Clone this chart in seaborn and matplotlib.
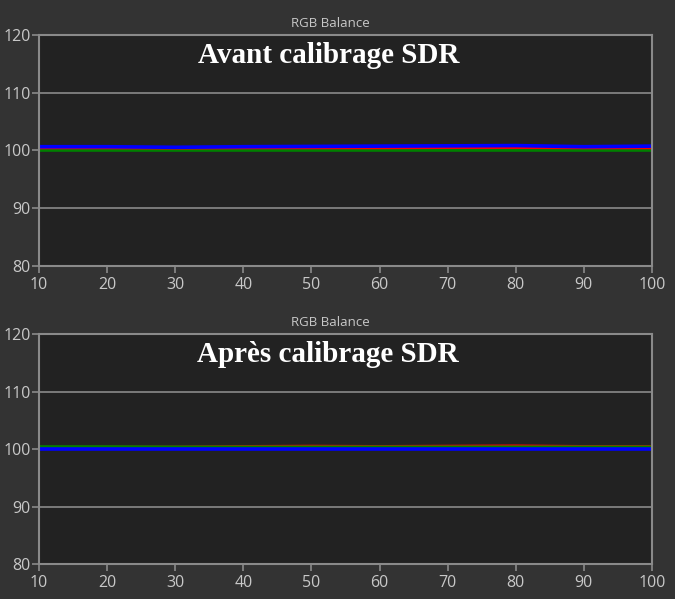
import numpy as np
import pandas as pd
import seaborn as sns
import matplotlib.pyplot as plt

# ------------------------------------------------------------
# DONNEES
# ------------------------------------------------------------
niveaux = [10, 20, 30, 40, 50, 60, 70, 80, 90, 100]

avant_rouge = [100.45, 100.45, 100.4, 100.45, 100.45, 100.45, 100.5, 100.5, 100.45, 100.45]
avant_vert = [100.1, 100.1, 100.1, 100.1, 100.1, 100.1, 100.1, 100.1, 100.1, 100.1]
avant_bleu = [100.65, 100.65, 100.55, 100.65, 100.7, 100.75, 100.8, 100.85, 100.65, 100.75]

apres_rouge = [100.3, 100.35, 100.35, 100.45, 100.5, 100.45, 100.5, 100.55, 100.45, 100.45]
apres_vert = [100.35, 100.35, 100.3, 100.3, 100.3, 100.3, 100.3, 100.3, 100.3, 100.3]
apres_bleu = [100.0, 100.0, 100.0, 100.0, 100.0, 100.0, 100.0, 100.0, 100.0, 100.0]

titre_haut = "Avant calibrage SDR"
titre_bas = "Après calibrage SDR"

# ------------------------------------------------------------
# STYLE
# ------------------------------------------------------------
sns.set_style("dark")
plt.rcParams["font.family"] = ["Open Sans", "DejaVu Sans"]

fond = "#333333"
fond_axe = "#222222"
gris = "#8a8a8a"
texte = "#c8c8c8"

fig = plt.figure(figsize=(6.75, 5.99), dpi=100, facecolor=fond)
ax1 = fig.add_axes([0.0578, 0.556, 0.908, 0.3856])
ax2 = fig.add_axes([0.0578, 0.0584, 0.908, 0.384])


def trace(ax, rouge, vert, bleu, titre, ordre):
    df = pd.DataFrame({"x": niveaux, "R": rouge, "G": vert, "B": bleu})
    styles = {"R": ("#ff0000", 2.0), "G": ("#008000", 2.6), "B": ("#0000ff", 2.6)}
    for c in ordre:
        sns.lineplot(data=df, x="x", y=c, ax=ax, color=styles[c][0], lw=styles[c][1])
    ax.set_facecolor(fond_axe)
    ax.set_xlim(10, 100)
    ax.set_ylim(80, 120)
    ax.set_xticks(range(10, 101, 10))
    ax.set_yticks(range(80, 121, 10))
    ax.grid(False)
    for v in [90, 100, 110]:
        ax.axhline(v, color=gris, lw=1.2, zorder=0)
    for s in ax.spines.values():
        s.set_visible(True)
        s.set_color(gris)
        s.set_linewidth(1.5)
    ax.tick_params(axis="both", colors=gris, labelcolor=texte, labelsize=11.5,
                   length=5, width=1.2, direction="out", bottom=True, left=True, pad=1)
    ax.tick_params(axis="x", pad=3)
    ax.set_xlabel("")
    ax.set_ylabel("")
    ax.set_title("RGB Balance", color=texte, fontsize=9.5, pad=6, x=0.475)
    ax.text(0.472, 0.91, titre, transform=ax.transAxes, ha="center", va="center",
            fontsize=21, fontweight="bold", color="white", family="Liberation Serif")


trace(ax1, avant_rouge, avant_vert, avant_bleu, titre_haut, ["G", "R", "B"])
trace(ax2, apres_rouge, apres_vert, apres_bleu, titre_bas, ["R", "G", "B"])

plt.savefig("out.png", dpi=100, facecolor=fond)
